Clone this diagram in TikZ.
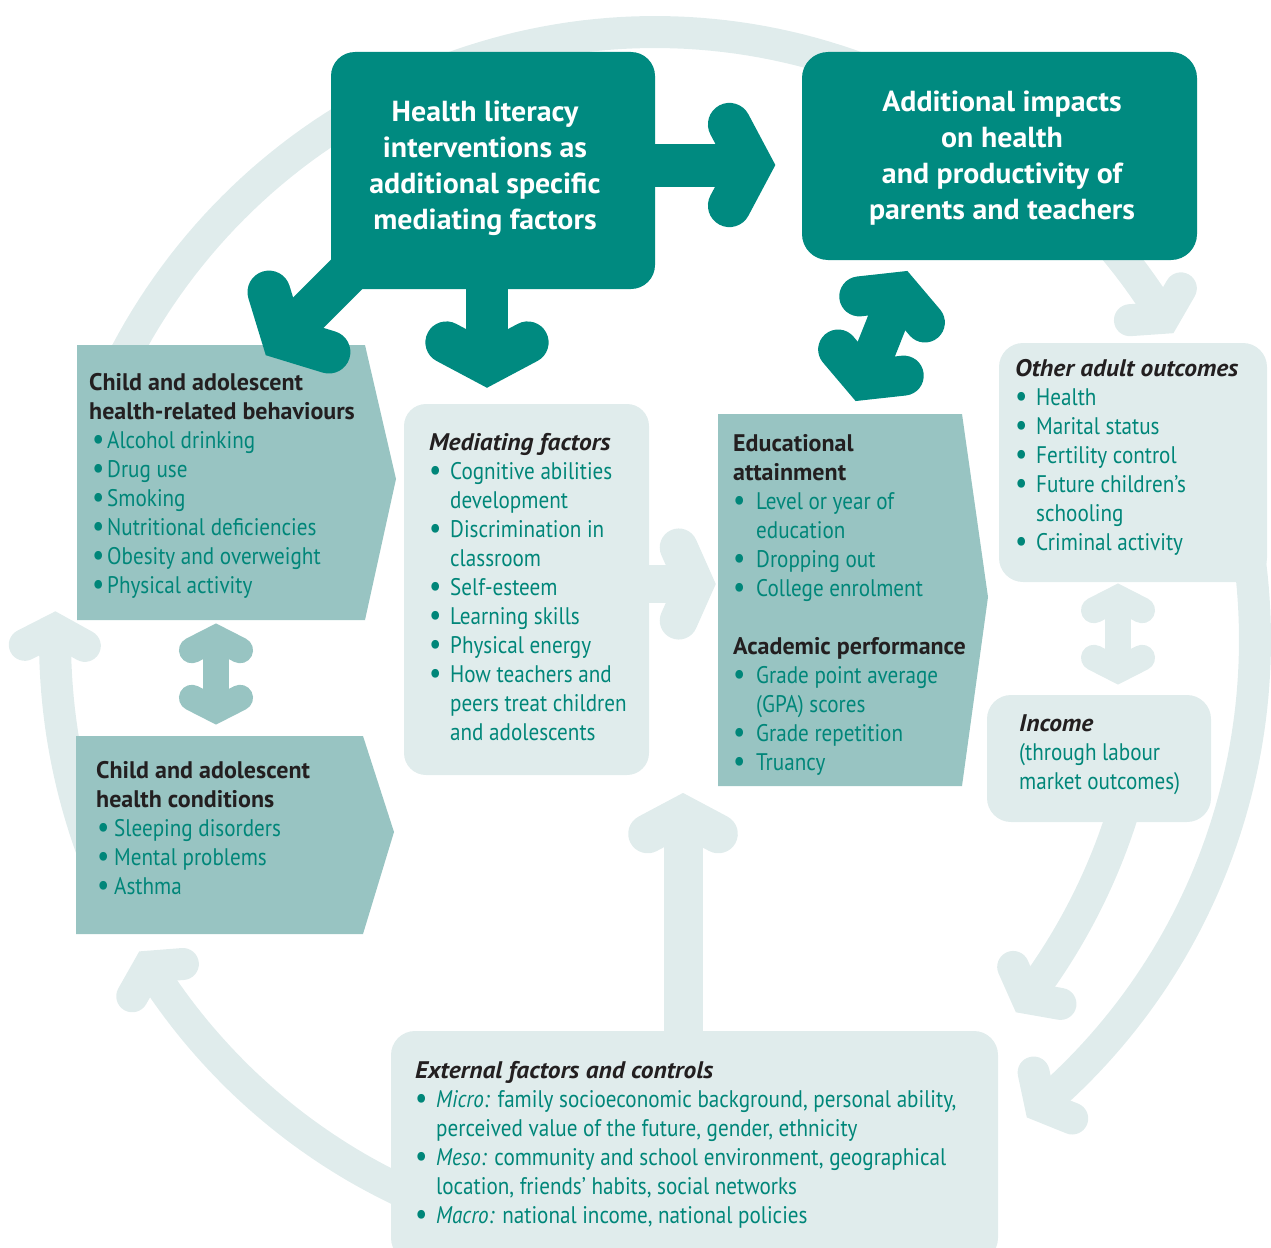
\documentclass[tikz,border=0pt]{standalone}
\usepackage{fontspec}
\usepackage{graphicx}
\setmainfont{PT Sans}
\newfontfamily\regf[FakeStretch=0.88]{PT Sans}
\newfontfamily\boldf[FakeStretch=1.0]{PT Sans}
\newfontfamily\bitf[FakeStretch=1.06]{PT Sans}
\newfontfamily\headf[FakeStretch=1.03]{PT Sans}
\usetikzlibrary{calc}
\definecolor{dteal}{RGB}{0,138,128}
\definecolor{mteal}{RGB}{152,196,194}
\definecolor{lteal}{RGB}{224,236,236}
\definecolor{gtext}{RGB}{0,134,121}
\definecolor{dtext}{RGB}{35,31,32}
\newcommand\chev[6]{\draw[#6, line width=#5, line cap=round, line join=miter, miter limit=20]
  ($(#1)+({#2+180-#3}:#4)$) -- (#1) -- ($(#1)+({#2+180+#3}:#4)$);}
\newcommand\bulit[1]{\makebox[#1][l]{\raisebox{-0.8pt}{\scalebox{1.3}{\textbullet}}}}
\newcommand\ttlb[1]{{\boldf\bfseries\color{dtext}#1}}
\newcommand\ttli[1]{{\bitf\bfseries\itshape\color{dtext}#1}}
\begin{document}
\begin{tikzpicture}[x=1pt,y=-1pt,
  band/.style={lteal, line width=32},
  txt/.style={inner sep=0, anchor=north west, align=left, text=gtext, font=\regf\fontsize{24}{29}\selectfont},
  head/.style={inner sep=0, align=center, text=white, font=\headf\bfseries\fontsize{29}{36}\selectfont}]
\useasboundingbox (0,0) rectangle (1271,1247);

% ---- light ring arcs ----
\draw[band] plot[domain=-153:-32, samples=100, variable=\t] ({655+600*cos(\t)},{640+608*sin(\t)});
\coordinate (ringA) at ({655+600*cos(-32)},{640+608*sin(-32)});
\chev{ringA}{58}{62}{34}{32}{lteal}
\draw[band] plot[domain=-10:50, samples=60, variable=\t] ({655+600*cos(\t)},{640+608*sin(\t)});
\coordinate (ringB) at ({655+600*cos(50)},{640+608*sin(50)});
\chev{ringB}{140}{62}{34}{32}{lteal}
\draw[band] plot[domain=113:147, samples=40, variable=\t] ({655+600*cos(\t)},{640+608*sin(\t)});
\coordinate (ringD) at ({655+600*cos(147.5)},{640+608*sin(147.5)});
\chev{ringD}{237.5}{62}{34}{32}{lteal}
\draw[band] plot[domain=157:181, samples=30, variable=\t] ({655+600*cos(\t)},{640+608*sin(\t)});
\coordinate (ringE) at ({655+600*cos(181)},{640+608*sin(181)});
\chev{ringE}{271}{62}{34}{32}{lteal}
\coordinate (incS) at (1123,812);
\coordinate (incA) at (1027,998);
\draw[band] (incS) .. controls (1105,870) and (1075,935) .. (incA);
\chev{incA}{128}{62}{34}{32}{lteal}

% ---- light straight arrows ----
\coordinate (upS) at (683,1040);
\coordinate (upA) at (683,815);
\draw[lteal, line width=39] (upS) -- (upA);
\chev{upA}{270}{62}{40}{39}{lteal}
\coordinate (meS) at (640,584);
\coordinate (meA) at (695,584);
\draw[lteal, line width=38] (meS) -- (meA);
\chev{meA}{0}{66}{40}{38}{lteal}
\coordinate (oiA) at (1118,598);
\coordinate (oiB) at (1118,670);
\draw[lteal, line width=26] (oiA) -- (oiB);
\chev{oiA}{270}{63}{27}{26}{lteal}
\chev{oiB}{90}{63}{27}{26}{lteal}

% ---- boxes ----
\fill[lteal, rounded corners=22] (404,404) rectangle (649,775);
\fill[lteal, rounded corners=24] (999,343) rectangle (1267,582);
\fill[lteal, rounded corners=24] (987,695) rectangle (1211,822);
\fill[lteal, rounded corners=24] (391,1031) rectangle (998,1262);
\fill[mteal] (77,345) -- (365,345) -- (396,479) -- (365,620) -- (77,620) -- cycle;
\fill[mteal] (76,736) -- (363,736) -- (394,832) -- (363,934) -- (76,934) -- cycle;
\fill[mteal] (718,414) -- (962,414) -- (988,597) -- (962,786) -- (718,786) -- cycle;
\fill[dteal, rounded corners=24] (331,52) rectangle (655,289);
\fill[dteal, rounded corners=26] (802,52) rectangle (1197,260);

% ---- medium double arrow ----
\coordinate (bcA) at (216,638);
\coordinate (bcB) at (216,710);
\draw[mteal, line width=26] (bcA) -- (bcB);
\chev{bcA}{270}{63}{27}{26}{mteal}
\chev{bcB}{90}{63}{27}{26}{mteal}

% ---- dark arrows ----
\coordinate (hlR) at (640,165);
\coordinate (hlRa) at (751,165);
\draw[dteal, line width=43] (hlR) -- (hlRa);
\chev{hlRa}{0}{62}{46}{43}{dteal}
\coordinate (hlD) at (487,280);
\coordinate (hlDa) at (487,364);
\draw[dteal, line width=42] (hlD) -- (hlDa);
\chev{hlDa}{90}{62}{46}{42}{dteal}
\coordinate (hlL) at (366,255);
\coordinate (hlLa) at (283,338);
\draw[dteal, line width=43] (hlL) -- (hlLa);
\chev{hlLa}{135}{62}{48}{43}{dteal}
\coordinate (dA) at (899,292);
\coordinate (dB) at (864,380);
\draw[dteal, line width=40] (dA) -- (dB);
\chev{dA}{291.7}{62}{40}{40}{dteal}
\chev{dB}{111.7}{62}{40}{40}{dteal}

% ---- texts ----
\node[head] (tHL) at (485,168) {Health literacy\\interventions as\\additional specific\\mediating factors};
\node[head] (tAdd) at (1002,158.5) {Additional impacts\\on health\\and productivity of\\parents and teachers};

\node[txt] (tBeh) at (89,373) {\ttlb{Child and adolescent}\\\ttlb{health-related behaviours}\\
\hspace*{3pt}\bulit{15pt}Alcohol drinking\\
\hspace*{3pt}\bulit{15pt}Drug use\\
\hspace*{3pt}\bulit{15pt}Smoking\\
\hspace*{3pt}\bulit{15pt}Nutritional deficiencies\\
\hspace*{3pt}\bulit{15pt}Obesity and overweight\\
\hspace*{3pt}\bulit{15pt}Physical activity};

\node[txt] (tCond) at (96,761) {\ttlb{Child and adolescent}\\\ttlb{health conditions}\\
\hspace*{1pt}\bulit{17pt}Sleeping disorders\\
\hspace*{1pt}\bulit{17pt}Mental problems\\
\hspace*{1pt}\bulit{17pt}Asthma};

\node[txt] (tMed) at (429,433) {\ttli{Mediating factors}\\
\bulit{21pt}Cognitive abilities\\\hspace*{21pt}development\\
\bulit{21pt}Discrimination in\\\hspace*{21pt}classroom\\
\bulit{21pt}Self-esteem\\
\bulit{21pt}Learning skills\\
\bulit{21pt}Physical energy\\
\bulit{21pt}How teachers and\\\hspace*{21pt}peers treat children\\\hspace*{21pt}and adolescents};

\node[txt] (tEdu) at (733,434) {\ttlb{Educational}\\\ttlb{attainment}\\
\bulit{23pt}Level or year of\\\hspace*{23pt}education\\
\bulit{23pt}Dropping out\\
\bulit{23pt}College enrolment\\
\strut\\
\ttlb{Academic performance}\\
\bulit{23pt}Grade point average\\\hspace*{23pt}(GPA) scores\\
\bulit{23pt}Grade repetition\\
\bulit{23pt}Truancy};

\node[txt] (tOth) at (1015,359) {\ttli{Other adult outcomes}\\
\bulit{21pt}Health\\
\bulit{21pt}Marital status\\
\bulit{21pt}Fertility control\\
\bulit{21pt}Future children’s\\\hspace*{21pt}schooling\\
\bulit{21pt}Criminal activity};

\node[txt] (tInc) at (1019,714) {\ttli{Income}\\(through labour\\market outcomes)};

\node[txt] (tExt) at (415,1061) {\ttli{External factors and controls}\\
\bulit{21pt}\textit{Micro:} family socioeconomic background, personal ability,\\\hspace*{21pt}perceived value of the future, gender, ethnicity\\
\bulit{21pt}\textit{Meso:} community and school environment, geographical\\\hspace*{21pt}location, friends’ habits, social networks\\
\bulit{21pt}\textit{Macro:} national income, national policies};
\end{tikzpicture}
\end{document}
